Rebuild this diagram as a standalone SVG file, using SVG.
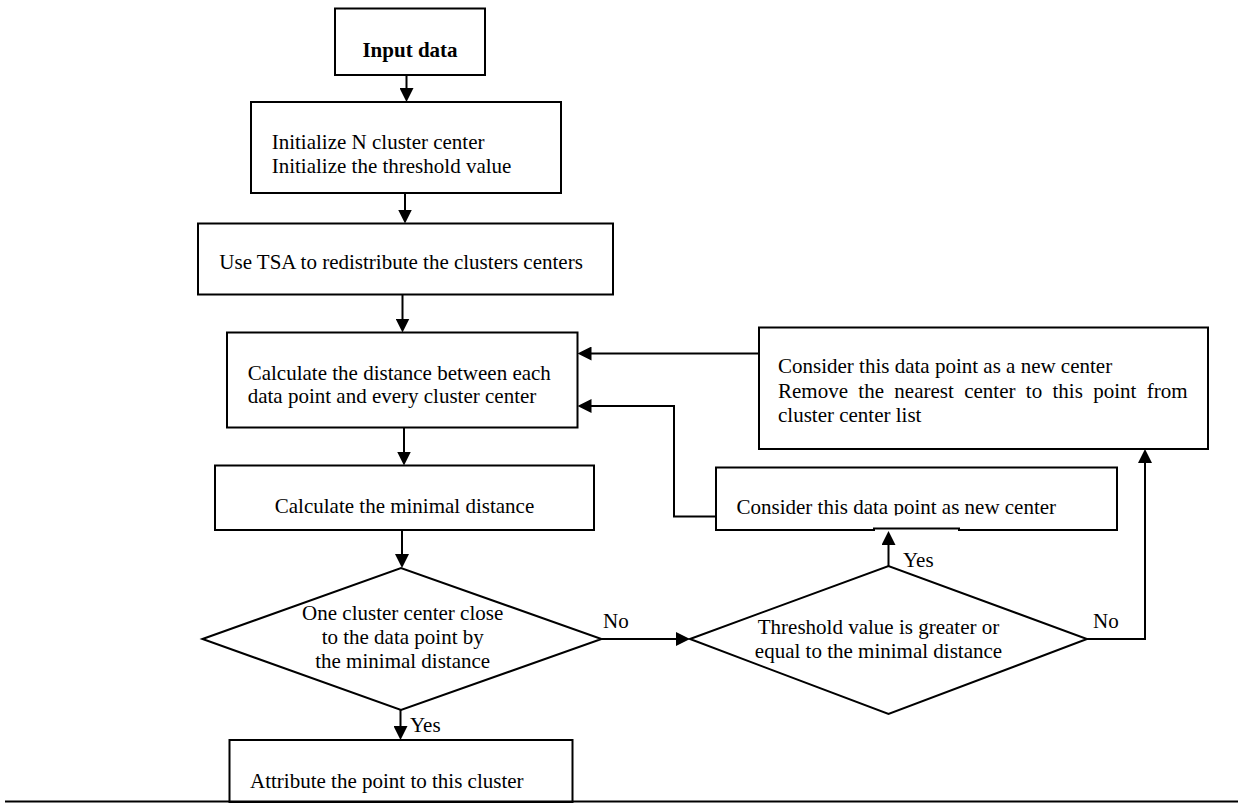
<svg xmlns="http://www.w3.org/2000/svg" width="1243" height="803" viewBox="0 0 1243 803">
<style>
.box{fill:#fff;stroke:#000;stroke-width:2}
.t{font-family:"Liberation Serif","Times New Roman",serif;font-size:21px;fill:#000}
.b{font-weight:bold}
.c{text-anchor:middle}
.con{fill:none;stroke:#000;stroke-width:2}
</style>
<defs>
<marker id="ah" markerUnits="userSpaceOnUse" markerWidth="14" markerHeight="14" refX="10" refY="7" orient="auto">
<path d="M0,0 L14,7 L0,14 z" fill="#000"/>
</marker>
<clipPath id="clip6"><rect x="716" y="467" width="402" height="48.5"/></clipPath>
</defs>
<rect width="1243" height="803" fill="#fff"/>
<g id="connectors">
<path class="con" marker-end="url(#ah)" d="M406.5,75 V98"/>
<path class="con" marker-end="url(#ah)" d="M405,193 V219.5"/>
<path class="con" marker-end="url(#ah)" d="M402.5,294.5 V328.5"/>
<path class="con" marker-end="url(#ah)" d="M404,427.5 V461.5"/>
<path class="con" marker-end="url(#ah)" d="M402,530 V564"/>
<path class="con" marker-end="url(#ah)" d="M400.5,710 V736"/>
<path class="con" marker-end="url(#ah)" d="M602,639 H686"/>
<path class="con" marker-end="url(#ah)" d="M888.5,566 V535"/>
<path class="con" marker-end="url(#ah)" d="M1087,639 H1145 V453"/>
<path class="con" marker-end="url(#ah)" d="M759,353.5 H581.5"/>
<path class="con" marker-end="url(#ah)" d="M716,516.5 H674 V406 H581.5"/>
<text class="t" x="603" y="628">No</text>
<text class="t" x="410" y="732">Yes</text>
<text class="t" x="903" y="567">Yes</text>
<text class="t" x="1093" y="628">No</text>
</g>
<g id="input">
<rect class="box" x="335" y="8.5" width="150" height="66.5"/>
<text class="t b c" x="410" y="56.7">Input data</text>
</g>
<g id="init">
<rect class="box" x="251" y="102" width="310" height="91"/>
<text class="t" x="271.7" y="149.3">Initialize N cluster center</text>
<text class="t" x="271.7" y="173.3">Initialize the threshold value</text>
</g>
<g id="tsa">
<rect class="box" x="198" y="223.5" width="415" height="71"/>
<text class="t" x="219.3" y="269.3">Use TSA to redistribute the clusters centers</text>
</g>
<g id="calc">
<rect class="box" x="227" y="332.5" width="350.5" height="95"/>
<text class="t" x="247.7" y="380">Calculate the distance between each</text>
<text class="t" x="247.7" y="403.3">data point and every cluster center</text>
</g>
<g id="min">
<rect class="box" x="215" y="465.5" width="379" height="64.5"/>
<text class="t c" x="404.5" y="513">Calculate the minimal distance</text>
</g>
<g id="decision1">
<polygon class="box" points="202.5,639 401,568 601.5,639 401,710"/>
<text class="t c" x="402.7" y="620">One cluster center close</text>
<text class="t c" x="402.7" y="644.3">to the data point by</text>
<text class="t c" x="402.7" y="668.3">the minimal distance</text>
</g>
<g id="decision2">
<polygon class="box" points="690,639 888.5,566 1087,639 888.5,714"/>
<text class="t c" x="878.5" y="634">Threshold value is greater or</text>
<text class="t c" x="878.5" y="658">equal to the minimal distance</text>
</g>
<g id="replace">
<rect class="box" x="759" y="327.5" width="449" height="121.5"/>
<text class="t" x="778" y="373.3">Consider this data point as a new center</text>
<text class="t" x="778" y="397.7" word-spacing="5.1">Remove the nearest center to this point from</text>
<text class="t" x="778" y="421.7">cluster center list</text>
</g>
<g id="newcenter">
<path class="box" d="M716,467.5 H1117 V530 H959 V528.5 H874 V530 H716 Z"/>
<text class="t" x="736.5" y="514.3" clip-path="url(#clip6)">Consider this data point as new center</text>
</g>
<g id="attribute">
<rect class="box" x="229.5" y="740" width="343" height="62"/>
<text class="t" x="250" y="788.3">Attribute the point to this cluster</text>
</g>
<line x1="5" y1="801.5" x2="1238" y2="801.5" stroke="#000" stroke-width="2"/>
</svg>
